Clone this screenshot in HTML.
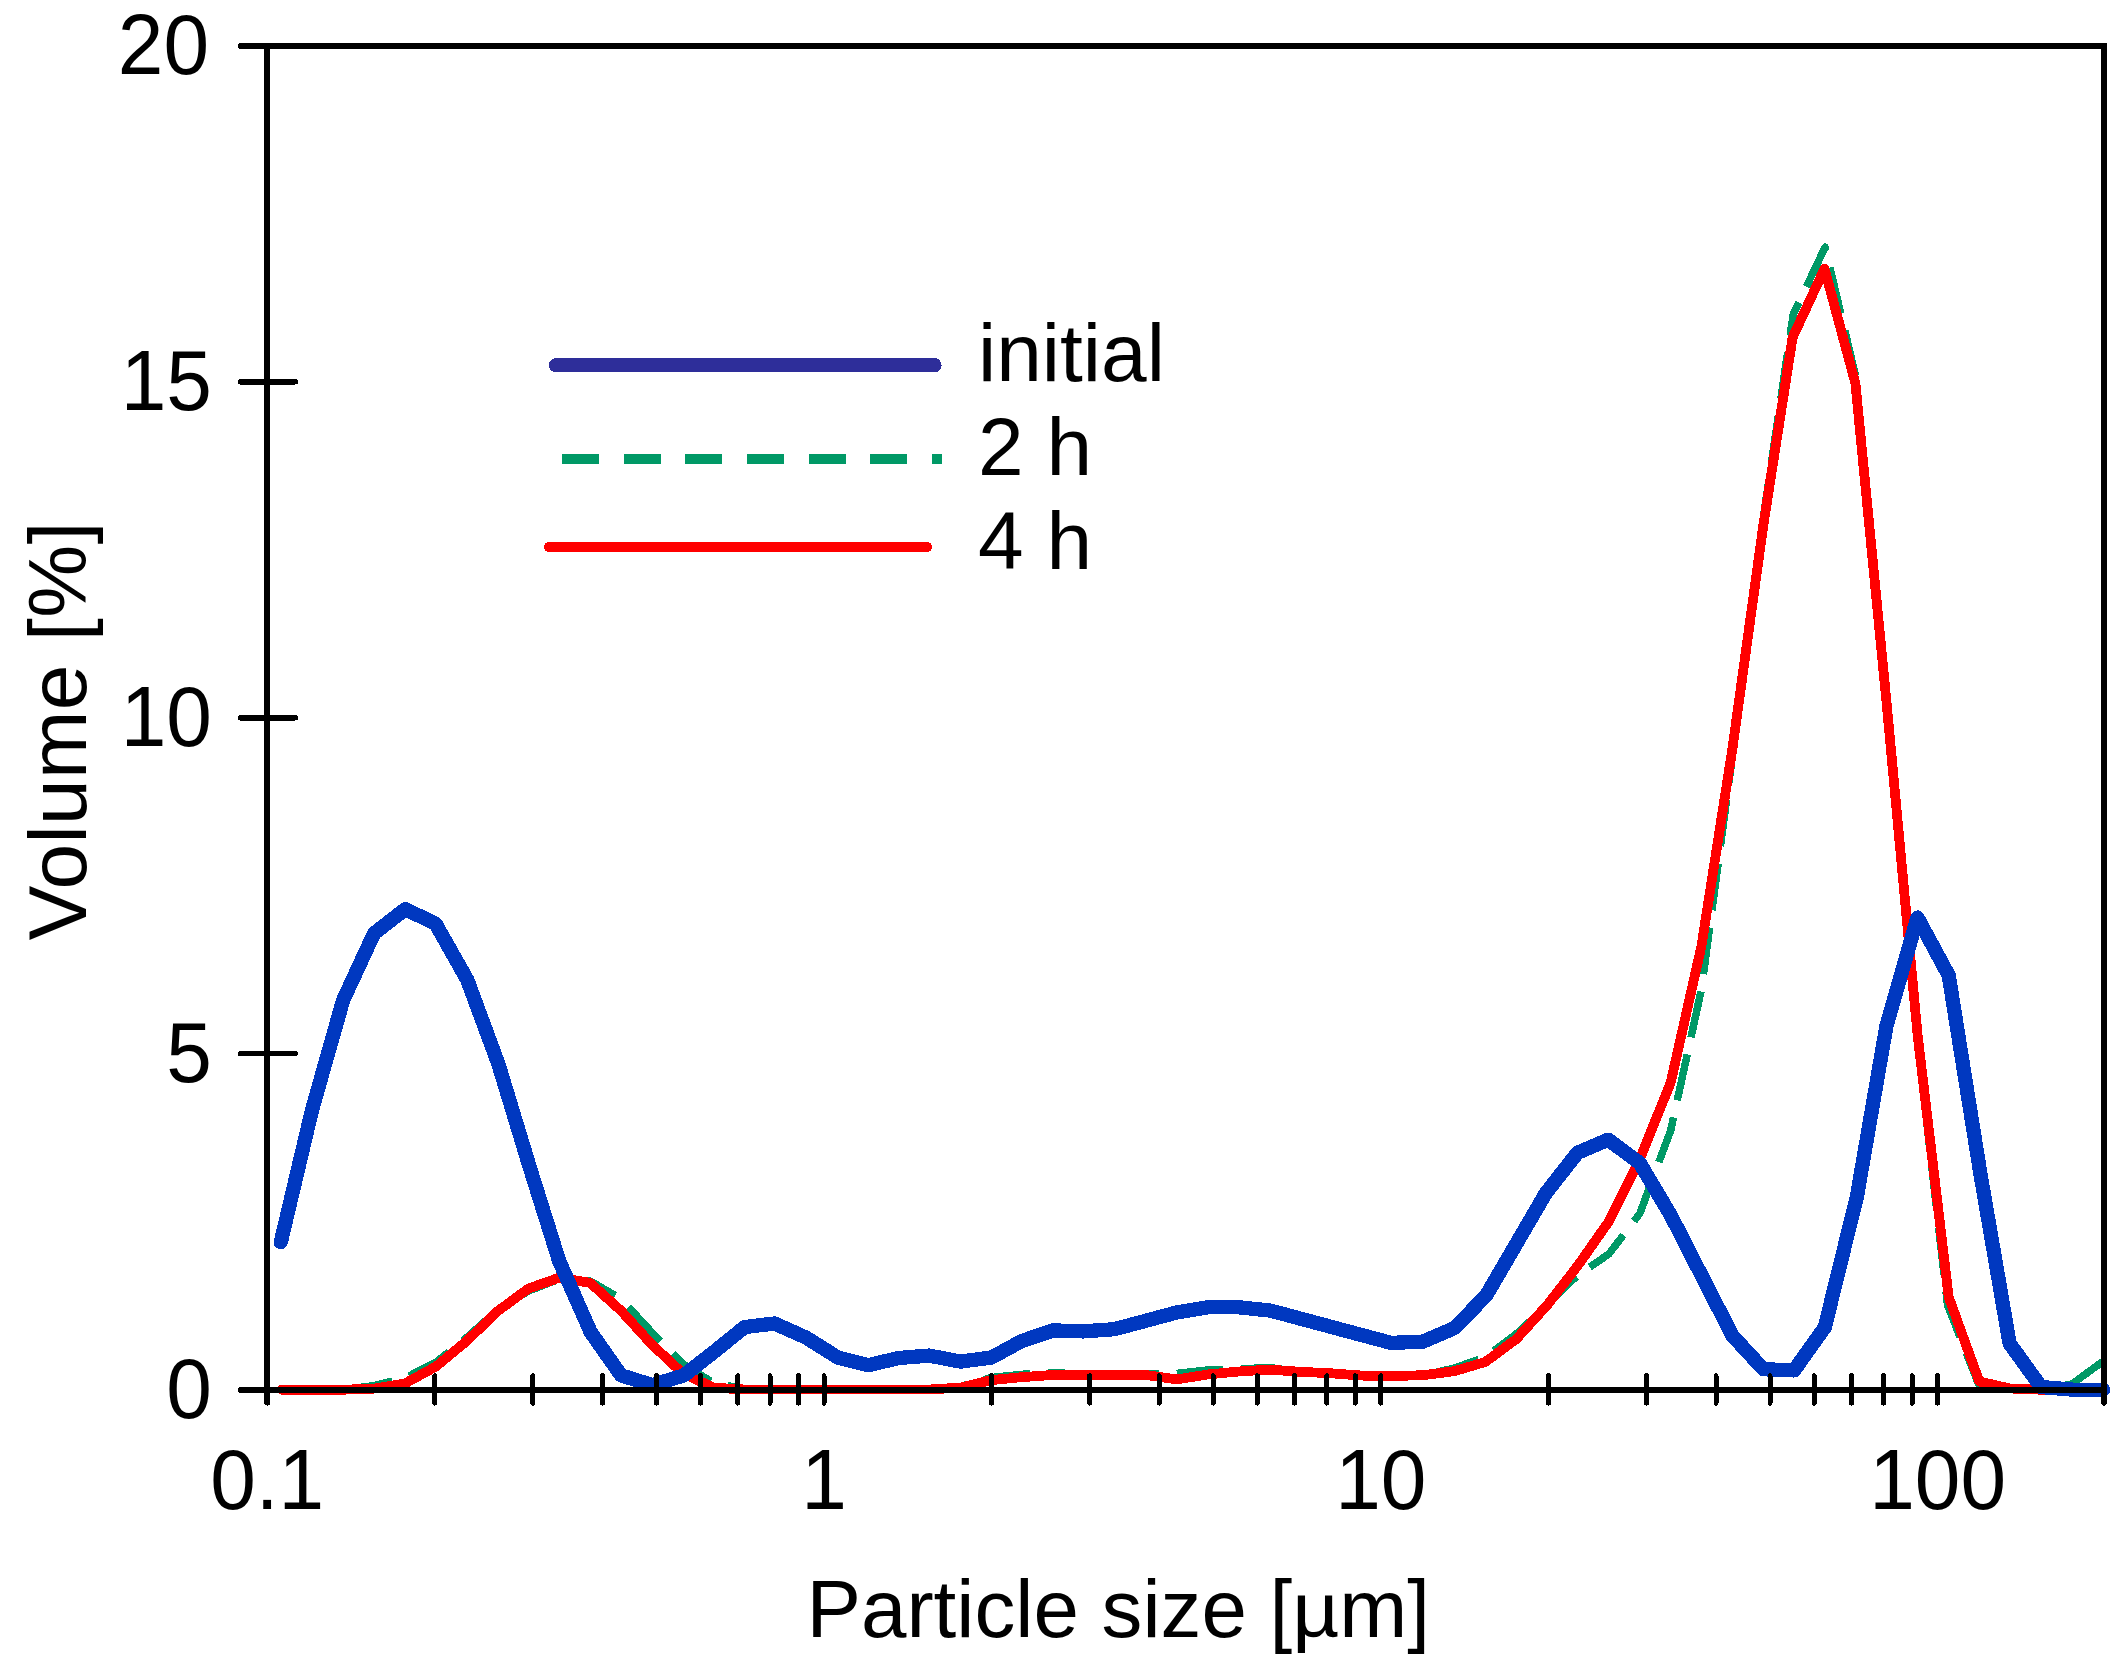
<!DOCTYPE html>
<html lang="en"><head><meta charset="utf-8"><title>Particle size distribution</title>
<style>
html,body{margin:0;padding:0;background:#fff;}
body{width:2123px;height:1668px;overflow:hidden;}
svg{display:block;}
text{font-family:"Liberation Sans",sans-serif;font-size:82px;fill:#000;}
</style></head><body>
<svg width="2123" height="1668" viewBox="0 0 2123 1668" shape-rendering="crispEdges">
<rect width="2123" height="1668" fill="#fff"/>
<g fill="none" stroke="#009966" stroke-width="7.5" stroke-dasharray="47 17.5" stroke-linejoin="round" stroke-linecap="butt">
<polyline points="281.6,1389.7 312.4,1389.7 343.3,1389.7 374.2,1385.6 405.0,1378.0 435.9,1362.4 466.8,1337.5 497.6,1310.0 528.5,1291.0 559.4,1279.0 590.2,1281.0 621.1,1299.0 652.0,1332.5 682.8,1364.0 713.7,1383.0 744.6,1389.0 775.5,1389.5 806.3,1389.5 837.2,1389.5 868.1,1389.5 898.9,1389.5 929.8,1389.5 960.7,1386.5 991.5,1377.5 1022.4,1374.3 1053.3,1372.5 1084.1,1374.5 1115.0,1374.5 1145.9,1373.5 1176.8,1373.4 1207.6,1370.0 1238.5,1369.0 1269.4,1367.5 1300.2,1371.8 1331.1,1373.3 1362.0,1375.6 1392.8,1377.5 1423.7,1375.2 1454.6,1368.0 1485.4,1357.0 1516.3,1334.0 1547.2,1304.0 1578.0,1275.0"/>
<polyline points="1578.0,1275.0 1608.9,1254.0 1639.8,1213.5 1670.7,1130.4 1701.5,989.0 1732.4,756.0 1763.3,518.0 1793.2,314.6" stroke-dashoffset="50.3"/>
<polyline points="1793.2,314.6 1825.1,247.2 1856.0,378.0 1886.7,704.0 1917.6,1042.0 1947.5,1305.0 1978.5,1384.0 2010.2,1389.0 2041.1,1389.7" stroke-dashoffset="33.5"/>
<polyline points="2041.1,1389.7 2072.0,1384.0 2102.8,1361.5" stroke-dasharray="none"/>
<circle cx="1793.2" cy="314.6" r="3.75" fill="#009966" stroke="none"/>
</g>
<polyline points="281.6,1389.7 312.4,1389.7 343.3,1389.7 374.2,1388.6 405.0,1383.4 435.9,1366.6 466.8,1340.9 497.6,1311.2 528.5,1288.5 559.4,1277.6 590.2,1282.9 621.1,1310.8 652.0,1344.7 682.8,1373.3 713.7,1387.7 744.6,1389.5 775.5,1389.5 806.3,1389.5 837.2,1389.5 868.1,1389.5 898.9,1389.5 929.8,1389.5 960.7,1387.5 991.5,1380.1 1022.4,1377.1 1053.3,1374.9 1084.1,1374.9 1115.0,1374.9 1145.9,1375.0 1176.8,1379.4 1207.6,1374.5 1238.5,1371.5 1269.4,1369.6 1300.2,1371.8 1331.1,1373.3 1362.0,1375.6 1392.8,1376.0 1423.7,1375.2 1454.6,1371.1 1485.4,1361.9 1516.3,1339.1 1547.2,1305.1 1578.0,1265.4 1608.9,1221.4 1639.8,1159.1 1670.7,1082.5 1701.5,945.8 1732.4,748.8 1763.3,525.4 1792.6,337.5 1824.5,268.8 1855.4,383.3 1886.7,704.0 1917.6,1035.0 1948.7,1297.0 1979.3,1381.5 2010.2,1388.5 2041.1,1389.7 2072.0,1389.7 2102.8,1389.7" fill="none" stroke="#ff0000" stroke-width="9.8" stroke-linejoin="round" stroke-linecap="round"/>
<polyline points="280.8,1242.2 311.9,1110.5 343.1,1000.3 374.1,933.4 405.4,909.1 435.7,923.9 467.3,979.9 498.4,1064.0 529.6,1166.8 559.1,1260.8 590.6,1331.9 621.0,1375.3 652.4,1385.1 684.0,1375.3 714.9,1351.2 744.6,1327.1 774.5,1323.5 806.1,1337.6 837.8,1357.5 868.2,1365.2 898.8,1358.0 929.0,1355.6 960.6,1361.6 991.5,1357.5 1022.0,1340.9 1053.3,1330.4 1082.7,1331.4 1114.4,1329.2 1145.3,1320.9 1176.2,1312.6 1208.0,1307.3 1238.9,1307.3 1270.0,1310.5 1300.7,1318.7 1331.6,1327.0 1362.5,1335.3 1391.0,1342.9 1422.7,1341.7 1455.0,1327.8 1486.5,1295.0 1516.2,1244.0 1545.8,1193.2 1577.5,1152.8 1608.2,1139.7 1639.8,1163.1 1670.9,1215.5 1701.6,1275.5 1732.4,1335.6 1763.4,1369.2 1794.1,1370.4 1824.8,1327.3 1856.9,1196.6 1886.5,1025.6 1917.5,917.6 1948.7,975.4 1980.5,1174.3 2009.6,1343.4 2041.0,1387.0 2073.0,1389.7 2103.0,1389.9" fill="none" stroke="#0038c0" stroke-width="14.3" stroke-linejoin="round" stroke-linecap="round"/>
<g stroke="#000" stroke-width="6" fill="none" stroke-linecap="round" stroke-linejoin="miter">
<polyline points="240.7,46.0 2104.0,46.0 2104.0,1402.6"/>
<line x1="267.3" y1="46.0" x2="267.3" y2="1402.6"/>
<line x1="240.9" y1="1390.1000000000001" x2="2104.0" y2="1390.1000000000001"/>
</g>
<g stroke="#000" stroke-width="5.2" fill="none" stroke-linecap="round">
<line x1="240.3" y1="1053.8" x2="295.4" y2="1053.8"/>
<line x1="240.3" y1="717.9" x2="295.4" y2="717.9"/>
<line x1="240.3" y1="381.9" x2="295.4" y2="381.9"/>
</g>
<g stroke="#000" stroke-width="5" fill="none" stroke-linecap="round">
<line x1="434.8" y1="1375.8" x2="434.8" y2="1403.1"/>
<line x1="532.9" y1="1375.8" x2="532.9" y2="1403.1"/>
<line x1="602.4" y1="1375.8" x2="602.4" y2="1403.1"/>
<line x1="656.4" y1="1375.8" x2="656.4" y2="1403.1"/>
<line x1="700.5" y1="1375.8" x2="700.5" y2="1403.1"/>
<line x1="737.8" y1="1375.8" x2="737.8" y2="1403.1"/>
<line x1="770.0" y1="1375.8" x2="770.0" y2="1403.1"/>
<line x1="798.5" y1="1375.8" x2="798.5" y2="1403.1"/>
<line x1="824.0" y1="1375.8" x2="824.0" y2="1403.1"/>
<line x1="991.6" y1="1375.8" x2="991.6" y2="1403.1"/>
<line x1="1089.7" y1="1375.8" x2="1089.7" y2="1403.1"/>
<line x1="1159.2" y1="1375.8" x2="1159.2" y2="1403.1"/>
<line x1="1213.2" y1="1375.8" x2="1213.2" y2="1403.1"/>
<line x1="1257.3" y1="1375.8" x2="1257.3" y2="1403.1"/>
<line x1="1294.6" y1="1375.8" x2="1294.6" y2="1403.1"/>
<line x1="1326.8" y1="1375.8" x2="1326.8" y2="1403.1"/>
<line x1="1355.3" y1="1375.8" x2="1355.3" y2="1403.1"/>
<line x1="1380.8" y1="1375.8" x2="1380.8" y2="1403.1"/>
<line x1="1548.4" y1="1375.8" x2="1548.4" y2="1403.1"/>
<line x1="1646.5" y1="1375.8" x2="1646.5" y2="1403.1"/>
<line x1="1716.0" y1="1375.8" x2="1716.0" y2="1403.1"/>
<line x1="1770.0" y1="1375.8" x2="1770.0" y2="1403.1"/>
<line x1="1814.1" y1="1375.8" x2="1814.1" y2="1403.1"/>
<line x1="1851.4" y1="1375.8" x2="1851.4" y2="1403.1"/>
<line x1="1883.6" y1="1375.8" x2="1883.6" y2="1403.1"/>
<line x1="1912.1" y1="1375.8" x2="1912.1" y2="1403.1"/>
<line x1="1937.6" y1="1375.8" x2="1937.6" y2="1403.1"/>
</g>
<line x1="556" y1="365.2" x2="934.5" y2="365.2" stroke="#2e2e9a" stroke-width="14.2" stroke-linecap="round"/>
<line x1="562.2" y1="458.7" x2="942" y2="458.7" stroke="#009966" stroke-width="9.9" stroke-dasharray="36.9 24.7"/>
<line x1="549" y1="547" x2="927.2" y2="547" stroke="#ff0000" stroke-width="9.9" stroke-linecap="round"/>
<text x="978" y="380.6">initial</text>
<text x="978" y="475.2">2 h</text>
<text x="978" y="568.5">4 h</text>
<text transform="translate(211.9 1417.7) scale(1 1.04)" text-anchor="end">0</text>
<text transform="translate(211.9 1081.8) scale(1 1.04)" text-anchor="end">5</text>
<text transform="translate(211.9 745.9) scale(1 1.04)" text-anchor="end">10</text>
<text transform="translate(211.9 409.9) scale(1 1.04)" text-anchor="end">15</text>
<text transform="translate(209.0 74.0) scale(1 1.04)" text-anchor="end">20</text>
<text transform="translate(267.2 1508.8) scale(1 1.04)" text-anchor="middle">0.1</text>
<text transform="translate(824.0 1508.8) scale(1 1.04)" text-anchor="middle">1</text>
<text transform="translate(1380.8 1508.8) scale(1 1.04)" text-anchor="middle">10</text>
<text transform="translate(1937.6 1508.8) scale(1 1.04)" text-anchor="middle">100</text>
<text x="806.5" y="1637.1" style="font-size:81.7px">Particle size [</text>
<text transform="translate(1292.2 1637.1) scale(1 0.955)" style="font-size:81.7px">µ</text>
<text x="1339.3" y="1637.1" style="font-size:81.7px">m]</text>
<text transform="translate(85.9 940.2) rotate(-90)" style="letter-spacing:0.41px">Volume [%]</text>
</svg>
</body></html>
